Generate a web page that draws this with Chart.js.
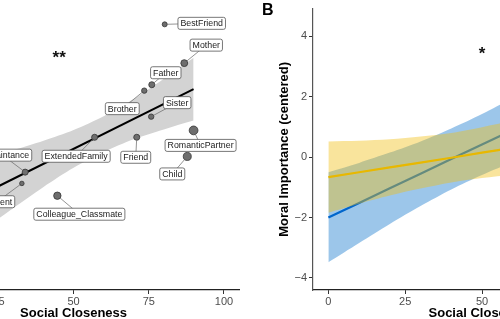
<!DOCTYPE html>
<html>
<head>
<meta charset="utf-8">
<script src="https://cdn.jsdelivr.net/npm/chart.js@4.4.0/dist/chart.umd.min.js"></script>
<style>
  html, body { margin: 0; padding: 0; background: #fff; }
  body { width: 500px; height: 319px; overflow: hidden; position: relative; }
  .panel { position: absolute; top: 0; }
  #panelA { left: -97px; }
  #panelB { left: 250px; }
</style>
</head>
<body>
<div class="panel" id="panelA"><canvas id="chartA" width="347" height="330"></canvas></div>
<div class="panel" id="panelB"><canvas id="chartB" width="410" height="330"></canvas></div>
<script>
// ---- shared ticks ----
const closenessTicks = [0, 25, 50, 75, 100];
const importanceTicks = [-4, -2, 0, 2, 4];

// ---- panel A: relationship means ----
const relLabels     = ['BestFriend', 'Mother', 'Father', 'Brother', 'Sister', 'RomanticPartner',
                       'Friend', 'ExtendedFamily', 'Acquaintance', 'Child', 'Student', 'Colleague_Classmate'];
const relCloseness  = [80.3, 86.8, 76.0, 73.5, 75.8, 89.9, 71.0, 57.0, 33.9, 87.8, 32.8, 44.6];
const relImportance = [5.41, 4.62, 4.18, 4.06, 3.53, 3.25, 3.11, 3.11, 2.40, 2.72, 2.17, 1.92];
const relSize       = [3, 9, 6, 4, 4, 18, 6, 6, 6, 14, 2, 11];

// fitted line + ribbon for panel A
const fitAX  = [20, 89.9];
const fitAY  = [1.96, 4.09];
const bandAX = [20, 30, 40, 50, 60, 70, 80, 89.9];
const bandALo = [1.23, 1.67, 2.10, 2.49, 2.81, 3.07, 3.27, 3.45];
const bandAHi = [2.69, 2.85, 3.04, 3.26, 3.54, 3.89, 4.30, 4.73];

// ---- panel B: two groups ----
const curveX    = [0, 10, 20, 30, 40, 50, 60, 70, 80, 90, 100];
const blueFit   = [-2.00, -1.52, -1.03, -0.55, -0.06, 0.42, 0.90, 1.39, 1.87, 2.36, 2.84];
const blueLo    = [-3.48, -2.84, -2.21, -1.62, -1.07, -0.59, -0.17, 0.21, 0.55, 0.86, 1.15];
const blueHi    = [-0.50, -0.19, 0.15, 0.52, 0.95, 1.43, 1.97, 2.57, 3.20, 3.86, 4.53];
const yellowFit = [-0.66, -0.50, -0.34, -0.18, -0.02, 0.15, 0.31, 0.47, 0.63, 0.79, 0.95];
const yellowLo  = [-1.84, -1.54, -1.27, -1.04, -0.84, -0.69, -0.59, -0.53, -0.49, -0.48, -0.48];
const yellowHi  = [0.52, 0.54, 0.59, 0.68, 0.80, 0.99, 1.21, 1.47, 1.75, 2.06, 2.38];

// label placement (pixel offsets from each point, like ggrepel output)
const labelDx = [37, 22, 14, -22, 26, 7, -1, -18.5, -22.6, -15, -24.8, 22];
const labelDy = [-1, -18, -12, 18, -14, 15, 20, 19, -17, 17.5, 18.3, 18.5];

const FONT = "'Liberation Sans', Arial, Helvetica, sans-serif";
Chart.defaults.font.family = FONT;
Chart.defaults.animation = false;

function xy(xs, ys) { return xs.map((x, i) => ({x: x, y: ys[i]})); }
function dotRadius(i) { return 1.2 + Math.sqrt(relSize[i]) * 0.75; }

function xAxis(tickValues) {
    return {
        type: 'linear', min: -5, max: 105,
        afterBuildTicks: s => { s.ticks = tickValues.map(v => ({value: v})); },
        afterFit: s => { s.height = 40; },
        grid: { drawOnChartArea: false, drawTicks: true, tickLength: 4, color: '#333', lineWidth: 1 },
        border: { display: true, color: '#222', width: 1.2 },
        ticks: { color: '#4d4d4d', font: { size: 11 }, padding: 1, maxRotation: 0 },
        title: { display: true, text: 'Social Closeness', color: '#000',
                 font: { size: 13, weight: 'bold' }, padding: { top: 0, bottom: 8.5 } }
    };
}

// text annotations (asterisks)
function starPlugin(id, text, xv, yv) {
    return {
        id: id,
        afterDatasetsDraw(chart) {
            const {ctx, scales: {x, y}} = chart;
            ctx.save();
            ctx.font = 'bold 17px ' + FONT;
            ctx.fillStyle = '#111';
            ctx.textAlign = 'center';
            ctx.textBaseline = 'alphabetic';
            ctx.fillText(text, x.getPixelForValue(xv), y.getPixelForValue(yv) + 9.5);
            ctx.restore();
        }
    };
}

const labelPlugin = {
    id: 'relLabels',
    afterDatasetsDraw(chart) {
        const {ctx, scales: {x, y}} = chart;
        ctx.save();
        ctx.font = '8.8px ' + FONT;
        relLabels.forEach((txt, i) => {
            const px = x.getPixelForValue(relCloseness[i]);
            const py = y.getPixelForValue(relImportance[i]);
            const cx = px + labelDx[i], cy = py + labelDy[i];
            const w = ctx.measureText(txt).width + 5, h = 12;
            const dx = cx - px, dy = cy - py, d = Math.hypot(dx, dy);
            const r = dotRadius(i);
            ctx.beginPath();
            ctx.moveTo(px + dx / d * r, py + dy / d * r);
            ctx.lineTo(cx, cy);
            ctx.strokeStyle = '#666';
            ctx.lineWidth = 0.7;
            ctx.stroke();
            ctx.beginPath();
            ctx.roundRect(cx - w / 2, cy - h / 2, w, h, 2);
            ctx.fillStyle = '#fff';
            ctx.fill();
            ctx.strokeStyle = '#555';
            ctx.lineWidth = 0.8;
            ctx.stroke();
            ctx.fillStyle = '#1a1a1a';
            ctx.textAlign = 'center';
            ctx.textBaseline = 'middle';
            ctx.fillText(txt, cx, cy + 0.5);
        });
        ctx.restore();
    }
};

// ---- chart A ----
new Chart(document.getElementById('chartA'), {
    type: 'scatter',
    data: {
        datasets: [
            { data: xy(bandAX, bandALo), showLine: true, borderWidth: 0, pointRadius: 0, order: 4, tension: 0.3 },
            { data: xy(bandAX, bandAHi), showLine: true, borderWidth: 0, pointRadius: 0, order: 3, tension: 0.3,
              fill: { target: 0 }, backgroundColor: 'rgb(211,211,211)' },
            { data: xy(fitAX, fitAY), showLine: true, borderColor: '#000', borderWidth: 2, pointRadius: 0, order: 2 },
            { data: xy(relCloseness, relImportance), order: 1,
              pointRadius: c => dotRadius(c.dataIndex),
              pointBackgroundColor: '#6e6e6e', pointBorderColor: '#333', pointBorderWidth: 0.8 }
        ]
    },
    options: {
        responsive: false,
        layout: { padding: { left: 0, right: 11, top: 0, bottom: 0 } },
        plugins: { legend: { display: false }, tooltip: { enabled: false } },
        scales: {
            x: xAxis(closenessTicks),
            y: { type: 'linear', min: 0, max: 5.8, display: false }
        }
    },
    plugins: [labelPlugin, starPlugin('starsA', '**', 45.2, 4.81)]
});

// ---- chart B ----
const panelLetter = {
    id: 'panelLetter',
    afterDraw(chart) {
        const ctx = chart.ctx;
        ctx.save();
        ctx.font = 'bold 16px ' + FONT;
        ctx.fillStyle = '#000';
        ctx.textAlign = 'left';
        ctx.textBaseline = 'alphabetic';
        ctx.fillText('B', 12, 14.5);
        ctx.restore();
    }
};

new Chart(document.getElementById('chartB'), {
    type: 'scatter',
    data: {
        datasets: [
            { data: xy(curveX, blueLo), showLine: true, borderWidth: 0, pointRadius: 0, order: 6, tension: 0.3 },
            { data: xy(curveX, blueHi), showLine: true, borderWidth: 0, pointRadius: 0, order: 5, tension: 0.3,
              fill: { target: 0 }, backgroundColor: 'rgba(20,120,205,0.42)' },
            { data: xy(curveX, blueFit), showLine: true, borderColor: '#0066cc', borderWidth: 2.2, pointRadius: 0, order: 4 },
            { data: xy(curveX, yellowLo), showLine: true, borderWidth: 0, pointRadius: 0, order: 3, tension: 0.3 },
            { data: xy(curveX, yellowHi), showLine: true, borderWidth: 0, pointRadius: 0, order: 2, tension: 0.3,
              fill: { target: 3 }, backgroundColor: 'rgba(240,190,20,0.42)' },
            { data: xy(curveX, yellowFit), showLine: true, borderColor: '#e8b800', borderWidth: 2.2, pointRadius: 0, order: 1 }
        ]
    },
    options: {
        responsive: false,
        layout: { padding: { left: 0, right: 9, top: 7, bottom: 0 } },
        plugins: { legend: { display: false }, tooltip: { enabled: false } },
        scales: {
            x: xAxis(closenessTicks),
            y: {
                type: 'linear', min: -4.4, max: 4.92,
                afterBuildTicks: s => { s.ticks = importanceTicks.map(v => ({value: v})); },
                afterFit: s => { s.width = 63; },
                grid: { drawOnChartArea: false, drawTicks: true, tickLength: 4, color: '#333', lineWidth: 1 },
                border: { display: true, color: '#555', width: 1.2 },
                ticks: { color: '#4d4d4d', font: { size: 11 }, padding: 2,
                         callback: v => String(v).replace('-', '\u2212') },
                title: { display: true, text: 'Moral Importance (centered)', color: '#000',
                         font: { size: 13, weight: 'bold' }, padding: { top: 27, bottom: 0 } }
            }
        }
    },
    plugins: [starPlugin('starB', '*', 50, 3.57), panelLetter]
});
</script>
</body>
</html>
